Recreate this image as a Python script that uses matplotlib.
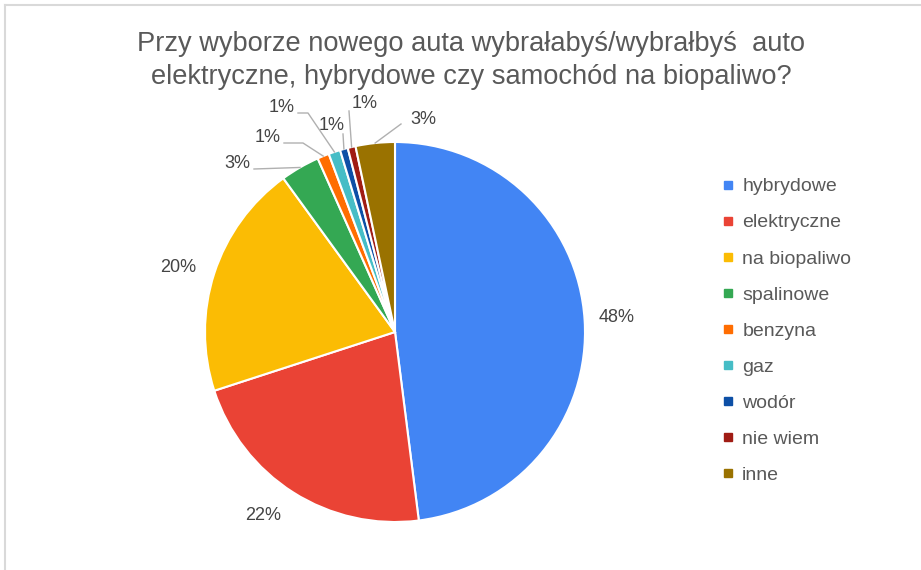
import matplotlib.pyplot as plt
from matplotlib.lines import Line2D
import numpy as np

plt.rcParams['font.family'] = ['Liberation Sans', 'DejaVu Sans']

categories = ["hybrydowe", "elektryczne", "na biopaliwo", "spalinowe", "benzyna",
              "gaz", "wodór", "nie wiem", "inne"]
counts = [144, 66, 60, 10, 3, 3, 2, 2, 10]
colors = ["#4285F4", "#EA4335", "#FBBC04", "#34A853", "#FF6D01",
          "#46BDC6", "#0D4FA6", "#A01C14", "#9A7200"]
title = "Przy wyborze nowego auta wybrałabyś/wybrałbyś  auto\nelektryczne, hybrydowe czy samochód na biopaliwo?"

W, H = 921, 570
cx, cy, rad = 395, 332, 190   # pie centre / radius in pixels

# label placement (pixels): text centre, leader line start+elbow (None = no line)
label_pos = [(617, 318), (263, 516), (178, 268), (237, 163), (268, 138),
             (282, 107), (332, 125), (365, 103), (423, 120)]
leaders = [None, None, None,
           [(254, 169)],
           [(284, 143), (303, 143)],
           [(298, 113), (308, 113)],
           [(343, 134)],
           [(349, 111)],
           [(401, 124)]]


def px(p):
    return ((p[0] - cx) / rad, (cy - p[1]) / rad)


fig = plt.figure(figsize=(W / 100, H / 100), dpi=100)
k = 1.6
ax = fig.add_axes([(cx - k * rad) / W, (H - cy - k * rad) / H, 2 * k * rad / W, 2 * k * rad / H])
wedges, _ = ax.pie(counts, colors=colors, startangle=90, counterclock=False,
                   wedgeprops=dict(edgecolor="white", linewidth=1.5))
ax.set_xlim(-k, k)
ax.set_ylim(-k, k)
ax.set_aspect("equal")
ax.axis("off")

total = sum(counts)
for w, c, pos, lead in zip(wedges, counts, label_pos, leaders):
    tx, ty = px(pos)
    ax.text(tx, ty, f"{100 * c / total:.0f}%", ha="center", va="center",
            fontsize=13, color="#444444")
    if lead:
        mid = np.deg2rad((w.theta1 + w.theta2) / 2)
        pts = [px(p) for p in lead] + [(np.cos(mid), np.sin(mid))]
        xs, ys = zip(*pts)
        ax.plot(xs, ys, color="#b0b0b0", lw=1, clip_on=False)

fig.text(471 / W, 1 - 60.5 / H, title, ha="center", va="center", fontsize=19.6,
         color="#595959", linespacing=1.32)

handles = [Line2D([], [], marker="s", ls="", markersize=6, color=c) for c in colors]
fig.legend(handles, categories, loc="upper left", bbox_to_anchor=(714 / W, 1 - 170 / H),
           frameon=False, fontsize=14, labelcolor="#595959", handlelength=0.6,
           handletextpad=0.45, labelspacing=0.95, borderaxespad=0)

# partial chart border
fig.add_artist(Line2D([5 / W, 5 / W], [0, 1 - 5 / H], transform=fig.transFigure, color="#d9d9d9", lw=1.5))
fig.add_artist(Line2D([5 / W, 1], [1 - 5 / H, 1 - 5 / H], transform=fig.transFigure, color="#d9d9d9", lw=1.5))

fig.savefig("out.png", dpi=100)
